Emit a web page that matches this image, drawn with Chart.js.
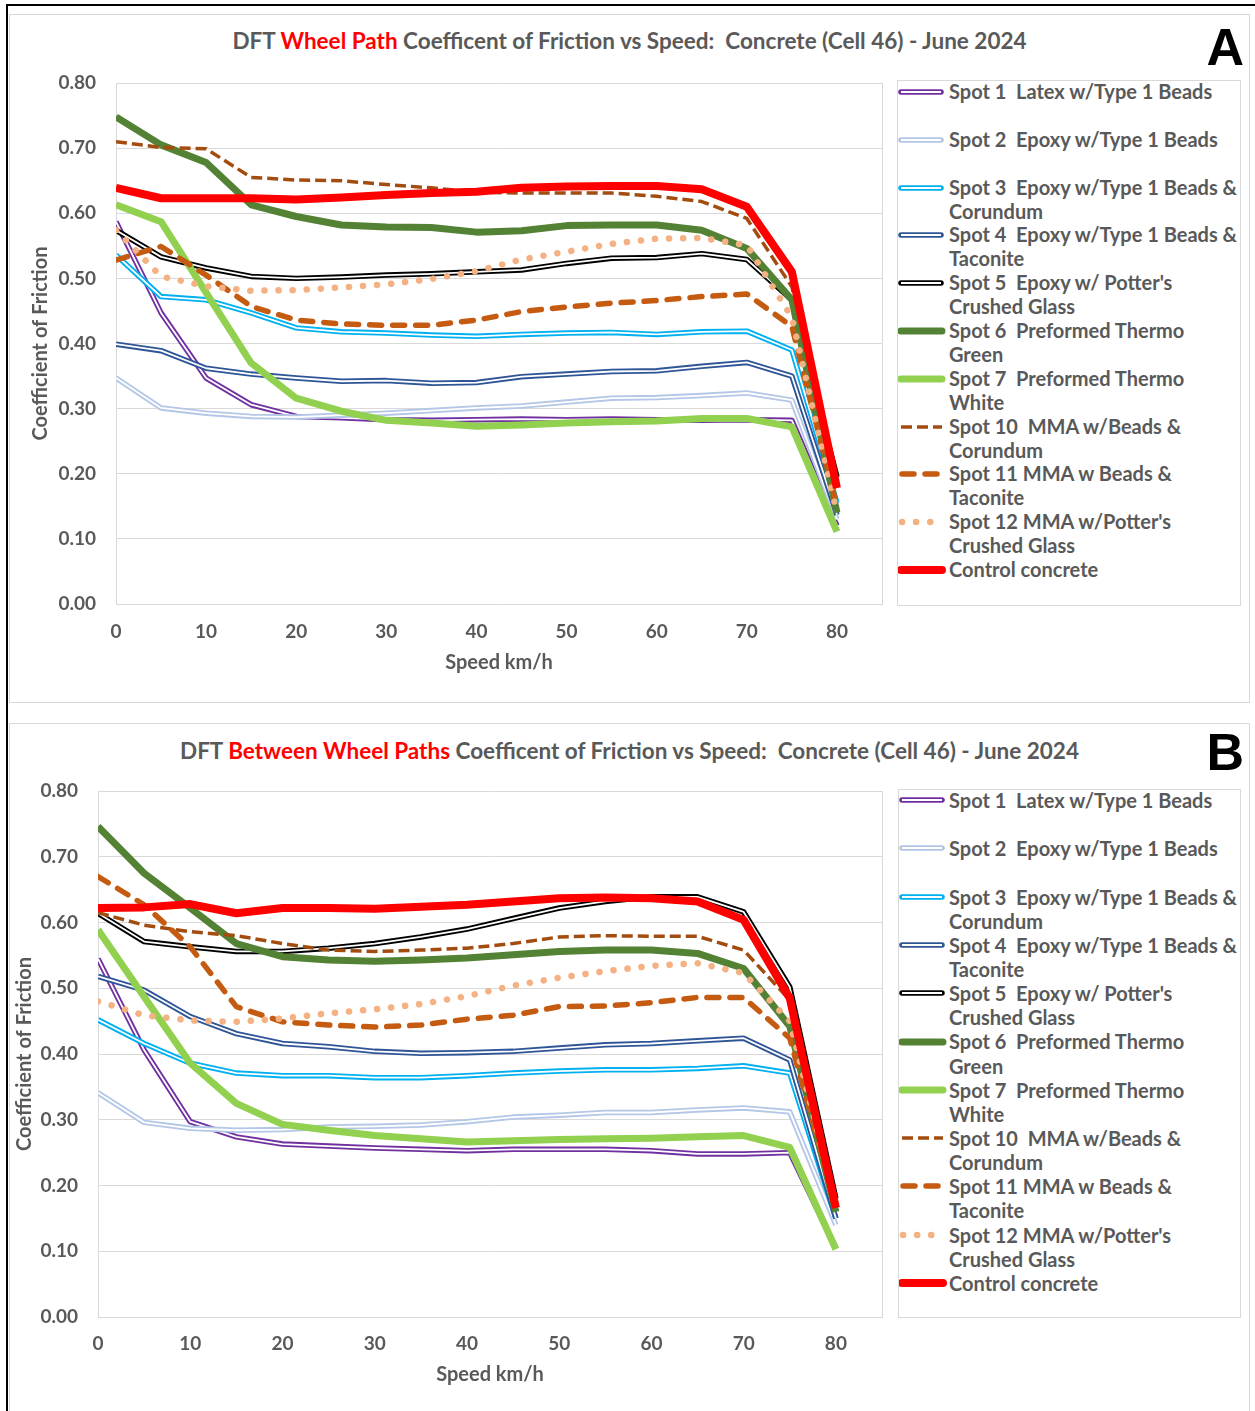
<!DOCTYPE html>
<html>
<head>
<meta charset="utf-8">
<script src="https://cdn.jsdelivr.net/npm/chart.js@4.4.0/dist/chart.umd.min.js"></script>
<style>
  body { margin: 0; width: 1255px; height: 1411px; background: #fff; position: relative; overflow: hidden; font-family: Lato, sans-serif; }
  .frame { position: absolute; left: 6px; top: 4px; width: 1300px; height: 1500px; border-left: 2px solid #000; border-top: 2px solid #000; }
  .panel { position: absolute; left: 9px; width: 1241px; box-sizing: border-box; border: 1px solid #d9d9d9; background: #fff; }
  .title { position: absolute; left: 9px; width: 1241px; text-align: center; font-size: 22.5px; line-height: 26px; font-weight: bold; color: #595959; white-space: pre; }
  .title span { color: #ff0000; }
  .letter { position: absolute; font-family: "Liberation Sans", Arial, sans-serif; font-weight: bold; font-size: 52px; line-height: 52px; color: #000; }
  .legend { position: absolute; box-sizing: border-box; border: 1px solid #d9d9d9; }
  .item { position: absolute; font-size: 20px; font-weight: bold; color: #595959; white-space: pre; }
  canvas { position: absolute; left: 0; }
</style>
</head>
<body>
<div class="frame"></div>
<script>
// speed steps (km/h)
const speeds = [0, 5, 10, 15, 20, 25, 30, 35, 40, 45, 50, 55, 60, 65, 70, 75, 80];
const xTicks = [0, 10, 20, 30, 40, 50, 60, 70, 80];
const yTicks = [0, 0.1, 0.2, 0.3, 0.4, 0.5, 0.6, 0.7, 0.8];

const seriesNames = [
  'Spot 1  Latex w/Type 1 Beads',
  'Spot 2  Epoxy w/Type 1 Beads',
  'Spot 3  Epoxy w/Type 1 Beads &\nCorundum',
  'Spot 4  Epoxy w/Type 1 Beads &\nTaconite',
  "Spot 5  Epoxy w/ Potter's\nCrushed Glass",
  'Spot 6  Preformed Thermo\nGreen',
  'Spot 7  Preformed Thermo\nWhite',
  'Spot 10  MMA w/Beads &\nCorundum',
  'Spot 11 MMA w Beads &\nTaconite',
  "Spot 12 MMA w/Potter's\nCrushed Glass",
  'Control concrete'
];

// A - wheel path
const wpSpot1 = [0.587, 0.447, 0.347, 0.306, 0.288, 0.286, 0.283, 0.282, 0.283, 0.284, 0.283, 0.284, 0.283, 0.282, 0.283, 0.282, 0.120];
const wpSpot2 = [0.347, 0.301, 0.293, 0.288, 0.287, 0.290, 0.293, 0.297, 0.301, 0.304, 0.310, 0.316, 0.317, 0.320, 0.324, 0.313, 0.130];
const wpSpot3 = [0.536, 0.472, 0.467, 0.447, 0.424, 0.418, 0.416, 0.413, 0.411, 0.414, 0.416, 0.417, 0.414, 0.418, 0.419, 0.390, 0.155];
const wpSpot4 = [0.399, 0.389, 0.362, 0.353, 0.347, 0.342, 0.343, 0.339, 0.340, 0.349, 0.353, 0.357, 0.358, 0.365, 0.371, 0.350, 0.137];
const wpSpot5 = [0.574, 0.533, 0.516, 0.503, 0.500, 0.502, 0.505, 0.507, 0.510, 0.513, 0.523, 0.531, 0.532, 0.538, 0.529, 0.467, 0.195];
const wpSpot6 = [0.748, 0.705, 0.678, 0.613, 0.595, 0.582, 0.579, 0.578, 0.571, 0.573, 0.581, 0.582, 0.582, 0.574, 0.546, 0.467, 0.140];
const wpSpot7 = [0.613, 0.587, 0.478, 0.370, 0.316, 0.296, 0.282, 0.278, 0.273, 0.275, 0.278, 0.280, 0.281, 0.285, 0.285, 0.272, 0.111];
const wpSpot10 = [0.710, 0.701, 0.699, 0.655, 0.651, 0.650, 0.644, 0.639, 0.632, 0.631, 0.631, 0.631, 0.626, 0.618, 0.592, 0.487, 0.190];
const wpSpot11 = [0.528, 0.549, 0.505, 0.457, 0.436, 0.430, 0.428, 0.428, 0.436, 0.449, 0.456, 0.462, 0.466, 0.472, 0.476, 0.426, 0.150];
const wpSpot12 = [0.574, 0.503, 0.488, 0.481, 0.482, 0.486, 0.491, 0.499, 0.511, 0.529, 0.541, 0.553, 0.561, 0.562, 0.551, 0.440, 0.140];
const wpControl = [0.639, 0.623, 0.623, 0.623, 0.621, 0.624, 0.628, 0.631, 0.633, 0.639, 0.641, 0.642, 0.642, 0.637, 0.610, 0.510, 0.178];

// B - between wheel paths
const bwSpot1 = [0.545, 0.406, 0.297, 0.274, 0.263, 0.260, 0.257, 0.255, 0.253, 0.255, 0.255, 0.255, 0.253, 0.248, 0.248, 0.250, 0.105];
const bwSpot2 = [0.341, 0.296, 0.287, 0.284, 0.285, 0.289, 0.290, 0.292, 0.297, 0.304, 0.307, 0.311, 0.311, 0.315, 0.318, 0.312, 0.140];
const bwSpot3 = [0.452, 0.416, 0.386, 0.371, 0.367, 0.367, 0.364, 0.364, 0.367, 0.371, 0.374, 0.376, 0.376, 0.378, 0.382, 0.371, 0.150];
const bwSpot4 = [0.518, 0.497, 0.457, 0.431, 0.416, 0.411, 0.404, 0.401, 0.402, 0.404, 0.409, 0.414, 0.416, 0.420, 0.424, 0.391, 0.150];
const bwSpot5 = [0.614, 0.571, 0.563, 0.556, 0.556, 0.561, 0.568, 0.578, 0.590, 0.606, 0.622, 0.632, 0.639, 0.639, 0.616, 0.502, 0.180];
const bwSpot6 = [0.746, 0.675, 0.622, 0.568, 0.548, 0.543, 0.541, 0.543, 0.546, 0.551, 0.556, 0.558, 0.558, 0.553, 0.530, 0.442, 0.160];
const bwSpot7 = [0.589, 0.487, 0.386, 0.325, 0.293, 0.284, 0.276, 0.271, 0.266, 0.268, 0.270, 0.271, 0.272, 0.274, 0.276, 0.258, 0.103];
const bwSpot10 = [0.615, 0.596, 0.586, 0.580, 0.568, 0.558, 0.556, 0.558, 0.561, 0.568, 0.578, 0.580, 0.579, 0.579, 0.558, 0.482, 0.180];
const bwSpot11 = [0.670, 0.627, 0.563, 0.472, 0.449, 0.444, 0.441, 0.444, 0.453, 0.459, 0.472, 0.473, 0.478, 0.486, 0.486, 0.424, 0.170];
const bwSpot12 = [0.480, 0.459, 0.451, 0.449, 0.454, 0.462, 0.468, 0.476, 0.488, 0.504, 0.516, 0.526, 0.534, 0.538, 0.523, 0.450, 0.170];
const bwControl = [0.622, 0.623, 0.628, 0.614, 0.622, 0.622, 0.621, 0.624, 0.627, 0.632, 0.637, 0.638, 0.637, 0.632, 0.604, 0.485, 0.166];

const styles = [
  { color: '#7030a0', kind: 'double' },
  { color: '#b4c7e7', kind: 'double' },
  { color: '#00b0f0', kind: 'double' },
  { color: '#2f5597', kind: 'double' },
  { color: '#000000', kind: 'double' },
  { color: '#548235', width: 7 },
  { color: '#92d050', width: 7 },
  { color: '#a34c10', width: 3.5, dash: [11, 5] },
  { color: '#c55a11', width: 5.5, dash: [12, 11], cap: 'round' },
  { color: '#f4b183', width: 6.5, dash: [0.1, 14], cap: 'round' },
  { color: '#ff0000', width: 8 }
];

const panels = [
  {
    letter: 'A', top: 14, height: 689,
    pre: 'DFT ', red: 'Wheel Path', post: ' Coefficent of Friction vs Speed:  Concrete (Cell 46) - June 2024',
    titleY: 41, letterY: 46,
    plot: { l: 116, r: 882, t: 83, b: 604 }, yTitleX: 41, xTickY: 632, xTitleY: 663,
    legend: { l: 897, t: 80, r: 1241, b: 606, first: 92, step: 47.8, sx: 901 },
    series: [wpSpot1, wpSpot2, wpSpot3, wpSpot4, wpSpot5, wpSpot6, wpSpot7, wpSpot10, wpSpot11, wpSpot12, wpControl]
  },
  {
    letter: 'B', top: 723, height: 720,
    pre: 'DFT ', red: 'Between Wheel Paths', post: ' Coefficent of Friction vs Speed:  Concrete (Cell 46) - June 2024',
    titleY: 751, letterY: 751,
    plot: { l: 98, r: 882, t: 791, b: 1317 }, yTitleX: 25, xTickY: 1344, xTitleY: 1375,
    legend: { l: 898, t: 789, r: 1241, b: 1318, first: 800, step: 48.3, sx: 902 },
    series: [bwSpot1, bwSpot2, bwSpot3, bwSpot4, bwSpot5, bwSpot6, bwSpot7, bwSpot10, bwSpot11, bwSpot12, bwControl]
  }
];

const textColor = '#595959';
const gridColor = '#d9d9d9';
const tickFont = { family: 'Lato, sans-serif', size: 19, weight: 'bold' };
const titleFont = { family: 'Lato, sans-serif', size: 20, weight: 'bold' };

const plotFrame = {
  id: 'plotFrame',
  beforeDatasetsDraw(chart) {
    const { ctx, chartArea: a } = chart;
    ctx.save();
    ctx.strokeStyle = gridColor;
    ctx.lineWidth = 1;
    ctx.beginPath();
    ctx.moveTo(Math.round(a.right) + 0.5, a.top);
    ctx.lineTo(Math.round(a.right) + 0.5, a.bottom);
    ctx.stroke();
    ctx.restore();
  }
};

const makeDatasets = (series) => {
  const ds = [];
  series.forEach((vals, i) => {
    const st = styles[i];
    const base = {
      data: speeds.map((s, k) => ({ x: s, y: vals[k] })),
      pointRadius: 0, tension: 0, fill: false, borderJoinStyle: 'round'
    };
    ds.push({
      ...base, label: seriesNames[i], order: 100 - 2 * i,
      borderColor: st.color, borderWidth: st.kind === 'double' ? 5.5 : st.width,
      borderDash: st.dash || [], borderCapStyle: st.cap || 'butt'
    });
    if (st.kind === 'double')
      ds.push({ ...base, label: '', order: 99 - 2 * i, borderColor: '#ffffff', borderWidth: 1.8 });
  });
  return ds;
};

const legendSample = (st) => {
  const w = st.kind === 'double' ? 5.5 : st.width;
  const dash = st.dash ? ` stroke-dasharray="${st.dash.join(' ')}"` : '';
  let s = `<svg width="48" height="12" style="position:absolute;left:0;top:0">`;
  if (st.kind === 'double') {
    s += `<line x1="3" y1="6" x2="43" y2="6" stroke="${st.color}" stroke-width="5.5" stroke-linecap="round"/>`;
    s += `<line x1="3" y1="6" x2="43" y2="6" stroke="#fff" stroke-width="1.8"/>`;
  } else {
    const cap = st.cap || (st.dash ? 'butt' : 'round');
    const x1 = st.dash && st.cap ? 4 : 3;
    s += `<line x1="${x1}" y1="6" x2="44" y2="6" stroke="${st.color}" stroke-width="${w}" stroke-linecap="${cap}"${dash}/>`;
  }
  return s + '</svg>';
};

panels.forEach((p) => {
  const box = document.createElement('div');
  box.className = 'panel';
  box.style.top = p.top + 'px';
  box.style.height = p.height + 'px';
  document.body.append(box);

  const title = document.createElement('div');
  title.className = 'title';
  title.style.top = (p.titleY - 13) + 'px';
  title.innerHTML = `${p.pre}<span>${p.red}</span>${p.post}`;
  document.body.append(title);

  const letter = document.createElement('div');
  letter.className = 'letter';
  letter.textContent = p.letter;
  letter.style.right = (1255 - 1244) + 'px';
  letter.style.top = (p.letterY - 25) + 'px';
  document.body.append(letter);

  // legend
  const lg = p.legend;
  const leg = document.createElement('div');
  leg.className = 'legend';
  leg.style.left = lg.l + 'px';
  leg.style.top = lg.t + 'px';
  leg.style.width = (lg.r - lg.l) + 'px';
  leg.style.height = (lg.b - lg.t) + 'px';
  document.body.append(leg);
  seriesNames.forEach((name, i) => {
    const cy = lg.first + i * lg.step;
    const sample = document.createElement('div');
    sample.style.cssText = `position:absolute;left:${lg.sx - 3}px;top:${cy - 6}px;width:48px;height:12px`;
    sample.innerHTML = legendSample(styles[i]);
    document.body.append(sample);
    const it = document.createElement('div');
    it.className = 'item';
    it.style.left = '949px';
    it.style.top = (cy - lg.step / 4) + 'px';
    it.style.lineHeight = (lg.step / 2) + 'px';
    it.textContent = name;
    document.body.append(it);
  });

  // chart
  const ctop = p.plot.t - 20;
  const axisH = 90;
  const cw = 890;
  const ch = p.plot.b + axisH - ctop;
  const cv = document.createElement('canvas');
  cv.width = cw;
  cv.height = ch;
  cv.style.top = ctop + 'px';
  document.body.append(cv);

  new Chart(cv, {
    type: 'line',
    data: { datasets: makeDatasets(p.series) },
    options: {
      responsive: false,
      animation: false,
      events: [],
      layout: { padding: { left: 0, top: 20, right: cw - p.plot.r, bottom: 0 } },
      plugins: { legend: { display: false }, title: { display: false }, tooltip: { enabled: false } },
      scales: {
        x: {
          type: 'linear', min: 0, max: 85,
          afterBuildTicks: (s) => { s.ticks = xTicks.map(v => ({ value: v })); },
          afterFit: (s) => { s.height = axisH; s.paddingLeft = 0; s.paddingRight = 0; },
          grid: { display: false, drawTicks: false },
          border: { display: true, color: gridColor, width: 1 },
          ticks: { color: textColor, font: tickFont, padding: p.xTickY - p.plot.b - tickFont.size * 0.6, maxRotation: 0 },
          title: {
            display: true, text: 'Speed km/h', color: textColor, font: titleFont,
            padding: { top: 0, bottom: p.plot.b + axisH - titleFont.size * 0.6 - p.xTitleY }
          }
        },
        y: {
          min: 0, max: 0.8,
          afterBuildTicks: (s) => { s.ticks = yTicks.map(v => ({ value: v })); },
          afterFit: (s) => { s.width = p.plot.l; s.paddingTop = 0; s.paddingBottom = 0; },
          grid: { color: gridColor, lineWidth: 1, drawTicks: false },
          border: { display: true, color: gridColor, width: 1 },
          ticks: { color: textColor, font: tickFont, padding: 20, callback: (v) => v.toFixed(2) },
          title: {
            display: true, text: 'Coefficient of Friction', color: textColor, font: titleFont,
            padding: { top: p.yTitleX - titleFont.size * 0.6, bottom: 0 }
          }
        }
      }
    },
    plugins: [plotFrame]
  });
});
</script>
</body>
</html>
